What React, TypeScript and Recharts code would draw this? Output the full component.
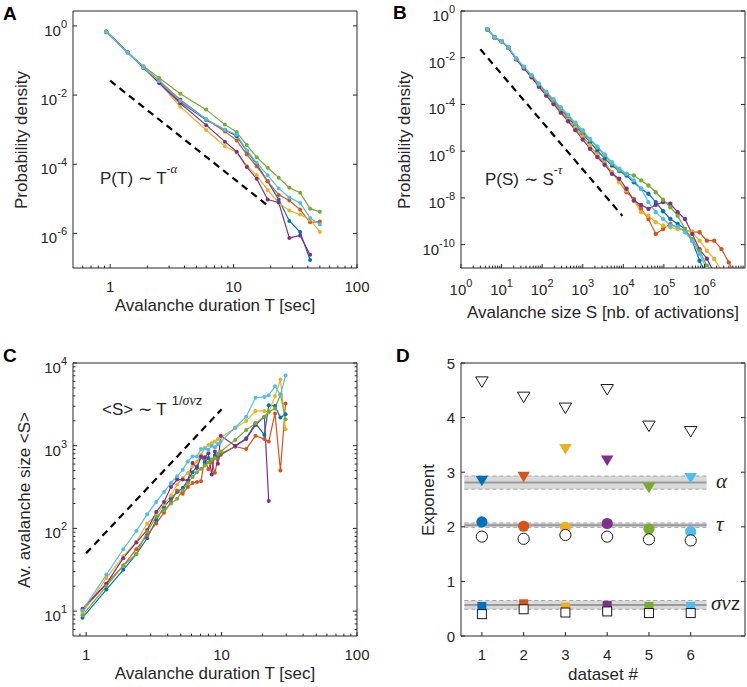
import React from "react";
import {
  ComposedChart,
  Line,
  Scatter,
  XAxis,
  YAxis,
  ReferenceArea,
  ReferenceLine,
} from "recharts";

const SANS = "'Liberation Sans', Arial, Helvetica, sans-serif";
const SERIF = "'Liberation Serif', 'Times New Roman', serif";
const INK = "#262626";

// datasets 1..6, MATLAB default colour order
const datasetIds = [1, 2, 3, 4, 5, 6];
const datasetColors = ["#0072BD", "#D95319", "#EDB120", "#7E2F8E", "#77AC30", "#4DBEEE"];

// ---------- A: P(T), avalanche duration ----------
const durA = [0.93, 1.39, 1.86, 2.5, 3.7, 6.0, 8.5, 10.6, 12.8, 15.4, 18.9, 23.2, 28.3, 34.6, 41.7, 50];
const probA1 = [0.68, 0.17, 0.063, 0.024, 6.3e-3, 1.9e-3, 1.0e-3, 6.5e-4, 2.4e-4, 1.0e-4, 3.2e-5, 9.5e-6, 2.3e-6, 1.1e-6, 1.7e-7];
const probA2 = [0.68, 0.17, 0.063, 0.026, 7.4e-3, 2.0e-3, 8.9e-4, 4.9e-4, 1.9e-4, 8.7e-5, 3.2e-5, 1.3e-5, 8.9e-6, 4.9e-6, 2.1e-6, 2.2e-6];
const probA3 = [0.68, 0.17, 0.063, 0.023, 4.6e-3, 9.8e-4, 3.3e-4, 2.2e-4, 9.1e-5, 4.8e-5, 1.8e-5, 7.6e-6, 4.6e-6, 3.5e-6, 2.5e-6, 1.1e-6];
const probA4 = [0.69, 0.17, 0.062, 0.022, 5.8e-3, 1.35e-3, 4.5e-4, 2.3e-4, 8.3e-5, 3.8e-5, 9.5e-6, 7.9e-6, 7.4e-7, 8.7e-7, 2.4e-7];
const probA5 = [0.65, 0.17, 0.068, 0.031, 0.011, 3.8e-3, 1.4e-3, 8.5e-4, 3.6e-4, 1.6e-4, 7.9e-5, 4.1e-5, 2.1e-5, 1.5e-5, 5.2e-6, 4.2e-6];
const probA6 = [0.68, 0.17, 0.063, 0.025, 6.8e-3, 2.0e-3, 1.0e-3, 7.1e-4, 2.5e-4, 1.1e-4, 4.8e-5, 2.0e-5, 1.1e-5, 7.6e-6, 2.8e-6, 1.8e-6];
const guideA_T = [1, 18.5];
const guideA_P = [0.026, 6.8e-6];
const ticksA_T = [1, 10, 100];
const ticksA_P = [1, 1e-2, 1e-4, 1e-6];

// ---------- B: P(S), avalanche size (log10 values) ----------
const log10SizeB = [0.65, 0.83, 1.0, 1.17, 1.36, 1.55, 1.74, 1.92, 2.1, 2.28, 2.46, 2.64, 2.82, 3.0, 3.18, 3.36, 3.54, 3.72, 3.9, 4.08, 4.26, 4.44, 4.62, 4.8, 4.98, 5.16, 5.34, 5.52, 5.7, 5.88, 6.06, 6.24, 6.42, 6.6, 6.78];
const log10ProbB1 = [-0.79, -1.13, -1.29, -1.57, -2.05, -2.43, -2.8, -3.17, -3.53, -3.88, -4.23, -4.57, -4.92, -5.26, -5.62, -5.97, -6.32, -6.61, -6.85, -7.04, -7.33, -7.61, -7.82, -8.18, -8.57, -8.9, -9.11, -9.33, -9.83, -10.69, -11.3];
const log10ProbB2 = [-0.79, -1.13, -1.3, -1.58, -2.06, -2.44, -2.82, -3.2, -3.57, -3.93, -4.29, -4.65, -5.01, -5.38, -5.77, -6.15, -6.5, -6.9, -7.3, -7.76, -8.04, -8.47, -8.9, -9.54, -9.33, -9.11, -9.28, -9.4, -9.45, -9.47, -9.83, -9.83, -10.19, -10.76, -11.4];
const log10ProbB3 = [-0.78, -1.12, -1.29, -1.57, -2.05, -2.43, -2.81, -3.19, -3.56, -3.92, -4.28, -4.64, -5.0, -5.37, -5.76, -6.14, -6.5, -6.9, -7.33, -7.68, -8.11, -8.61, -8.76, -9.04, -9.18, -9.26, -9.33, -9.4, -9.47, -9.83, -10.26, -10.61, -11.1];
const log10ProbB4 = [-0.79, -1.13, -1.3, -1.58, -2.07, -2.46, -2.84, -3.24, -3.62, -3.98, -4.35, -4.72, -5.1, -5.5, -5.9, -6.25, -6.58, -6.97, -7.18, -7.61, -8.11, -8.3, -8.47, -8.3, -8.18, -8.25, -8.61, -8.9, -9.54, -10.2, -10.6, -11.2];
const log10ProbB5 = [-0.8, -1.14, -1.29, -1.57, -2.04, -2.41, -2.77, -3.14, -3.49, -3.83, -4.17, -4.5, -4.84, -5.18, -5.52, -5.84, -6.18, -6.54, -6.82, -6.97, -7.04, -7.25, -7.47, -7.76, -8.08, -8.4, -8.76, -9.33, -9.76, -10.26, -10.9, -11.5];
const log10ProbB6 = [-0.77, -1.12, -1.28, -1.55, -2.02, -2.38, -2.74, -3.1, -3.45, -3.78, -4.12, -4.45, -4.78, -5.1, -5.48, -5.8, -6.14, -6.47, -6.75, -6.97, -7.25, -7.61, -8.18, -8.61, -8.9, -9.18, -9.23, -9.47, -9.83, -10.4, -11.04, -11.6];
const guideB_S = [3, 9500];
const guideB_P = [0.023, 1.7e-9];
const ticksB_S = [1, 10, 100, 1e3, 1e4, 1e5, 1e6];
const ticksB_P = [1, 1e-2, 1e-4, 1e-6, 1e-8, 1e-10];

// ---------- C: <S> vs T ----------
const durC = [0.94, 1.41, 1.88, 2.35, 2.82, 3.29, 3.76, 4.23, 4.7, 5.17, 5.64, 6.11, 6.58, 7.05, 7.52, 7.99, 8.46, 8.93, 9.4, 9.87, 12.6, 15.2, 17.8, 20.7, 22.3, 24.8, 27.2, 29.7];
const sizeC1 = [8.3, 18.2, 31.6, 49, 76, 126, 182, 229, 275, 309, 380, 479, 562, 741, 631, 708, 676, 759, 724, 776, 977, 1230, 1862, 1349, 3090, 3020, 2188, 2399];
const sizeC2 = [10.2, 21.4, 35.5, 56, 83, 115, 155, 209, 288, 263, 316, 355, 363, 372, 700, 520, 640, 470, 700, 800, 977, 912, 1318, 1202, 1122, 2455, 501, 3236];
const sizeC3 = [9.5, 25, 46, 69, 115, 145, 195, 250, 339, 407, 468, 562, 646, 776, 933, 1023, 1072, 1122, 1202, 1259, 1622, 1995, 2630, 2630, 2512, 3980, 6310, 1585];
const sizeC4 = [10.7, 21.4, 43.6, 67.6, 95.5, 158, 209, 316, 389, 389, 380, 617, 537, 741, 724, 813, 447, 851, 603, 1318, 1000, 1202, 1778, 2239, 214];
const sizeC5 = [8.9, 20, 35.5, 49, 91, 138, 166, 200, 229, 288, 355, 417, 479, 525, 575, 631, 676, 708, 794, 851, 1175, 1549, 1862, 2239, 2570, 2818, 4169, 2089];
const sizeC6 = [10.2, 27.5, 56, 93, 148, 209, 275, 355, 427, 513, 646, 741, 741, 912, 933, 891, 1000, 955, 1047, 1122, 1660, 2240, 3800, 3890, 4070, 5250, 4070, 7080];
const guideC_T = [1, 10];
const guideC_S = [50, 2750];
const ticksC_T = [1, 10, 100];
const ticksC_S = [10, 100, 1e3, 1e4];

// ---------- D: exponents per dataset ----------
const alphaFitD = [2.84, 2.91, 3.42, 3.21, 2.71, 2.89];
const alphaPredD = [4.65, 4.37, 4.17, 4.51, 3.84, 3.74];
const tauFitD = [2.09, 2.01, 1.99, 2.06, 1.96, 1.91];
const tauPredD = [1.82, 1.78, 1.85, 1.82, 1.77, 1.75];
const snzFitD = [0.54, 0.59, 0.53, 0.56, 0.54, 0.54];
const snzPredD = [0.4, 0.49, 0.43, 0.45, 0.42, 0.42];
const bandMeanD = [2.81, 2.03, 0.57];
const bandLowD = [2.69, 1.99, 0.49];
const bandHighD = [2.93, 2.07, 0.65];
const bandSpanD = [0.58, 6.38];
const ticksD_x = [1, 2, 3, 4, 5, 6];
const ticksD_y = [0, 1, 2, 3, 4, 5];

// ---------- helpers ----------
type Pt = { x: number; y: number | null };
const pair = (xs: number[], ys: (number | null)[]): Pt[] => ys.map((y, i) => ({ x: xs[i], y }));
const perDataset = (vals: number[]): Pt[] => datasetIds.map((id, i) => ({ x: id, y: vals[i] }));

const seriesA = [probA1, probA2, probA3, probA4, probA5, probA6].map((ys) => pair(durA, ys));
const seriesB = [log10ProbB1, log10ProbB2, log10ProbB3, log10ProbB4, log10ProbB5, log10ProbB6].map((ys) =>
  ys.map((y, i) => ({ x: 10 ** log10SizeB[i], y: 10 ** y }))
);
const seriesC = [sizeC1, sizeC2, sizeC3, sizeC4, sizeC5, sizeC6].map((ys) => pair(durC, ys));

function logMinors(fromExp: number, toExp: number, lo: number, hi: number) {
  const out: number[] = [];
  for (let e = fromExp; e < toExp; e++) {
    for (let k = 2; k <= 9; k++) {
      const v = k * 10 ** e;
      if (v > lo && v < hi) out.push(v);
    }
  }
  return out;
}

const powLabel = (v: number) => (
  <>
    10<tspan dy={-8} fontSize={11}>{Math.round(Math.log10(v))}</tspan>
  </>
);
const plainLabel = (v: number) => String(v);

type Side = "bottom" | "top" | "left" | "right";
const isMajor = (list: number[], v: number) =>
  list.some((m) => Math.abs(m - v) <= Math.abs(m) * 1e-9 + 1e-15);

function edgeTick(side: Side, major: number[], label?: (v: number) => React.ReactNode, dy = 0) {
  return (props: any) => {
    const { x, y, payload } = props;
    const v = Number(payload?.value);
    const big = isMajor(major, v);
    const len = big ? 4 : 2.4;
    const dx2 = side === "left" ? len : side === "right" ? -len : 0;
    const dy2 = side === "bottom" ? -len : side === "top" ? len : 0;
    return (
      <g>
        <line x1={x} y1={y} x2={x + dx2} y2={y + dy2} stroke={INK} strokeWidth={1} />
        {big && label ? (
          <text
            x={side === "left" ? x - 6 : x}
            y={y + dy}
            textAnchor={side === "left" ? "end" : "middle"}
            fontSize={15}
            fontFamily={SANS}
            fill={INK}
          >
            {label(v)}
          </text>
        ) : null}
      </g>
    );
  };
}

type AxisSpec = {
  domain: [number, number];
  scale: "log" | "linear";
  major: number[];
  minor: number[];
  label: (v: number) => React.ReactNode;
  dy: number;
};

function frameAxes(xa: AxisSpec, ya: AxisSpec) {
  const shared = {
    type: "number" as const,
    allowDataOverflow: true,
    mirror: true,
    interval: 0 as const,
    tickSize: 0,
    tickMargin: 0,
    tickLine: false,
    axisLine: { stroke: INK, strokeWidth: 1 },
  };
  const xt = [...xa.major, ...xa.minor];
  const yt = [...ya.major, ...ya.minor];
  return [
    <XAxis key="xb" xAxisId="b" orientation="bottom" dataKey="x" scale={xa.scale} domain={xa.domain} ticks={xt}
      tick={edgeTick("bottom", xa.major, xa.label, xa.dy)} {...shared} />,
    <XAxis key="xt" xAxisId="t" orientation="top" scale={xa.scale} domain={xa.domain} ticks={xt}
      tick={edgeTick("top", xa.major)} {...shared} />,
    <YAxis key="yl" yAxisId="l" orientation="left" dataKey="y" scale={ya.scale} domain={ya.domain} ticks={yt}
      tick={edgeTick("left", ya.major, ya.label, ya.dy)} {...shared} />,
    <YAxis key="yr" yAxisId="r" orientation="right" scale={ya.scale} domain={ya.domain} ticks={yt}
      tick={edgeTick("right", ya.major)} {...shared} />,
  ];
}

function seriesLines(series: Pt[][], r: number) {
  return series.map((data, i) => (
    <Line
      key={`s${i}`}
      xAxisId="b"
      yAxisId="l"
      data={data}
      dataKey="y"
      type="linear"
      stroke={datasetColors[i]}
      strokeWidth={1.2}
      dot={{ r, fill: datasetColors[i], stroke: datasetColors[i], strokeWidth: 0 }}
      activeDot={false}
      isAnimationActive={false}
    />
  ));
}

function guideLine(xs: number[], ys: number[]) {
  return (
    <Line
      xAxisId="b"
      yAxisId="l"
      data={pair(xs, ys)}
      dataKey="y"
      stroke="#000"
      strokeWidth={2.2}
      strokeDasharray="7 5"
      dot={false}
      activeDot={false}
      isAnimationActive={false}
    />
  );
}

const colorOf = (p: any) => datasetColors[((p?.payload?.x as number) ?? 1) - 1];

function triDown(open: boolean) {
  return (p: any) => {
    const { cx, cy } = p;
    const w = 12.5;
    const h = 10.5;
    return (
      <polygon
        points={`${cx - w / 2},${cy - h / 2} ${cx + w / 2},${cy - h / 2} ${cx},${cy + h / 2}`}
        fill={open ? "#fff" : colorOf(p)}
        stroke={open ? "#1a1a1a" : "none"}
        strokeWidth={1}
      />
    );
  };
}
function dotMark(open: boolean) {
  return (p: any) => (
    <circle
      cx={p.cx}
      cy={p.cy}
      r={5.6}
      fill={open ? "#fff" : colorOf(p)}
      stroke={open ? "#1a1a1a" : "none"}
      strokeWidth={1}
    />
  );
}
function boxMark(open: boolean) {
  return (p: any) => {
    const s = 9;
    return (
      <rect
        x={p.cx - s / 2}
        y={p.cy - s / 2}
        width={s}
        height={s}
        fill={open ? "#fff" : colorOf(p)}
        stroke={open ? "#1a1a1a" : "none"}
        strokeWidth={1}
      />
    );
  };
}

export default function App() {
  return (
    <div style={{ position: "absolute", left: 0, top: 0, width: 747, height: 687, background: "#fff", fontFamily: SANS }}>
      {/* A */}
      <div style={{ position: "absolute", left: 0, top: 0 }}>
        <ComposedChart width={373} height={330} margin={{ top: 11, right: 16, bottom: 62, left: 73 }}>
          {frameAxes(
            { domain: [0.5, 100], scale: "log", major: ticksA_T, minor: logMinors(-1, 2, 0.5, 100), label: plainLabel, dy: 24 },
            { domain: [1e-7, 2.7], scale: "log", major: ticksA_P, minor: [], label: powLabel, dy: 10 }
          )}
          {guideLine(guideA_T, guideA_P)}
          {seriesLines(seriesA, 2)}
        </ComposedChart>
      </div>

      {/* B */}
      <div style={{ position: "absolute", left: 373, top: 0 }}>
        <ComposedChart width={374} height={330} margin={{ top: 11, right: 2, bottom: 62, left: 88 }}>
          {frameAxes(
            { domain: [1, 1e7], scale: "log", major: ticksB_S, minor: logMinors(0, 7, 1, 1e7), label: powLabel, dy: 27 },
            { domain: [1e-11, 1], scale: "log", major: ticksB_P, minor: [], label: powLabel, dy: 10 }
          )}
          {guideLine(guideB_S, guideB_P)}
          {seriesLines(seriesB, 2.2)}
        </ComposedChart>
      </div>

      {/* C */}
      <div style={{ position: "absolute", left: 0, top: 330 }}>
        <ComposedChart width={373} height={357} margin={{ top: 33, right: 16, bottom: 51, left: 73 }}>
          {frameAxes(
            { domain: [0.8, 100], scale: "log", major: ticksC_T, minor: logMinors(-1, 2, 0.8, 100), label: plainLabel, dy: 24 },
            { domain: [5, 1e4], scale: "log", major: ticksC_S, minor: logMinors(0, 4, 5, 1e4), label: powLabel, dy: 10 }
          )}
          {guideLine(guideC_T, guideC_S)}
          {seriesLines(seriesC, 2)}
        </ComposedChart>
      </div>

      {/* D */}
      <div style={{ position: "absolute", left: 373, top: 330 }}>
        <ComposedChart width={374} height={357} margin={{ top: 33, right: 2, bottom: 51, left: 88 }}>
          {frameAxes(
            { domain: [0.5, 7.3], scale: "linear", major: ticksD_x, minor: [], label: plainLabel, dy: 24 },
            { domain: [0, 5], scale: "linear", major: ticksD_y, minor: [], label: plainLabel, dy: 5.5 }
          )}
          {bandMeanD.map((m, i) => (
            <ReferenceArea key={`ba${i}`} xAxisId="b" yAxisId="l" x1={bandSpanD[0]} x2={bandSpanD[1]}
              y1={bandLowD[i]} y2={bandHighD[i]} fill="#d9d9d9" fillOpacity={1} stroke="none" ifOverflow="visible" />
          ))}
          {bandMeanD.map((m, i) => (
            <ReferenceLine key={`bl${i}`} xAxisId="b" yAxisId="l" ifOverflow="visible"
              segment={[{ x: bandSpanD[0], y: bandLowD[i] }, { x: bandSpanD[1], y: bandLowD[i] }]}
              stroke="#a3a3a3" strokeWidth={1} strokeDasharray="4 3" />
          ))}
          {bandMeanD.map((m, i) => (
            <ReferenceLine key={`bh${i}`} xAxisId="b" yAxisId="l" ifOverflow="visible"
              segment={[{ x: bandSpanD[0], y: bandHighD[i] }, { x: bandSpanD[1], y: bandHighD[i] }]}
              stroke="#a3a3a3" strokeWidth={1} strokeDasharray="4 3" />
          ))}
          {bandMeanD.map((m, i) => (
            <ReferenceLine key={`bm${i}`} xAxisId="b" yAxisId="l" ifOverflow="visible"
              segment={[{ x: bandSpanD[0], y: m }, { x: bandSpanD[1], y: m }]}
              stroke="#9a9a9a" strokeWidth={2} />
          ))}
          <Scatter xAxisId="b" yAxisId="l" data={perDataset(alphaPredD)} shape={triDown(true)} isAnimationActive={false} />
          <Scatter xAxisId="b" yAxisId="l" data={perDataset(alphaFitD)} shape={triDown(false)} isAnimationActive={false} />
          <Scatter xAxisId="b" yAxisId="l" data={perDataset(tauFitD)} shape={dotMark(false)} isAnimationActive={false} />
          <Scatter xAxisId="b" yAxisId="l" data={perDataset(tauPredD)} shape={dotMark(true)} isAnimationActive={false} />
          <Scatter xAxisId="b" yAxisId="l" data={perDataset(snzFitD)} shape={boxMark(false)} isAnimationActive={false} />
          <Scatter xAxisId="b" yAxisId="l" data={perDataset(snzPredD)} shape={boxMark(true)} isAnimationActive={false} />
        </ComposedChart>
      </div>

      {/* titles, panel letters, annotations */}
      <svg width={747} height={687} style={{ position: "absolute", left: 0, top: 0, pointerEvents: "none" }}
        fontFamily={SANS} fill={INK}>
        <text x={3} y={20} fontSize={19} fontWeight="bold" fill="#000">A</text>
        <text x={393} y={19} fontSize={19} fontWeight="bold" fill="#000">B</text>
        <text x={3} y={362} fontSize={19} fontWeight="bold" fill="#000">C</text>
        <text x={396} y={362} fontSize={19} fontWeight="bold" fill="#000">D</text>

        <text transform="translate(27,140) rotate(-90)" textAnchor="middle" fontSize={17}>Probability density</text>
        <text x={215} y={311} textAnchor="middle" fontSize={17}>Avalanche duration T [sec]</text>
        <text transform="translate(410,140) rotate(-90)" textAnchor="middle" fontSize={17}>Probability density</text>
        <text x={603} y={318} textAnchor="middle" fontSize={17}>Avalanche size S [nb. of activations]</text>
        <text transform="translate(30,500) rotate(-90)" textAnchor="middle" fontSize={17}>{"Av. avalanche size <S>"}</text>
        <text x={215} y={679} textAnchor="middle" fontSize={17}>Avalanche duration T [sec]</text>
        <text transform="translate(434,500) rotate(-90)" textAnchor="middle" fontSize={17}>Exponent</text>
        <text x={603} y={680} textAnchor="middle" fontSize={17}>dataset #</text>

        <text x={100} y={184} fontSize={17}>
          P(T) ∼ T<tspan dy={-11} fontSize={12}>-</tspan>
          <tspan fontFamily={SERIF} fontStyle="italic" fontSize={13}>α</tspan>
        </text>
        <text x={485} y={185} fontSize={17}>
          P(S) ∼ S<tspan dy={-11} fontSize={12}>-</tspan>
          <tspan fontFamily={SERIF} fontStyle="italic" fontSize={13}>τ</tspan>
        </text>
        <text x={102} y={415} fontSize={17}>
          {"<S> ∼ T"}
          <tspan dx={5} dy={-10} fontSize={13}>1/</tspan>
          <tspan fontFamily={SERIF} fontStyle="italic" fontSize={14}>σν</tspan>
          <tspan fontSize={13}>z</tspan>
        </text>

        <text x={716} y={488} fontFamily={SERIF} fontStyle="italic" fontSize={21}>α</text>
        <text x={716} y={531} fontFamily={SERIF} fontStyle="italic" fontSize={21}>τ</text>
        <text x={711} y={610} fontFamily={SERIF} fontStyle="italic" fontSize={21}>
          σν<tspan fontFamily={SANS} fontStyle="normal" fontSize={19}>z</tspan>
        </text>
      </svg>
    </div>
  );
}
